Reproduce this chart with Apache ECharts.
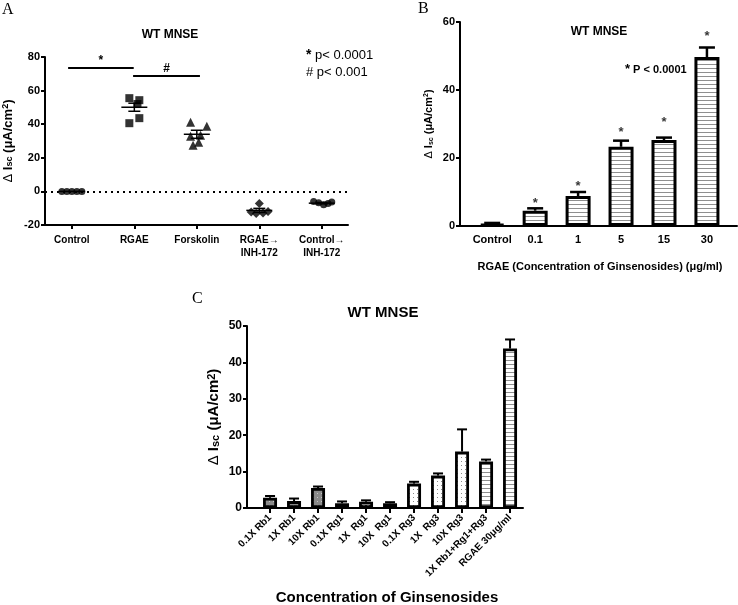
<!DOCTYPE html>
<html>
<head>
<meta charset="utf-8">
<title>WT MNSE</title>
<script src="https://cdn.jsdelivr.net/npm/echarts@6/dist/echarts.min.js"></script>
<style>
  html, body { margin: 0; padding: 0; background: #fff; }
  #chart { width: 738px; height: 605px; }
</style>
</head>
<body>
<div id="chart"></div>
<script>
'use strict';

// ---- panel A: scatter with mean / SEM ----
var catsA = ['Control', 'RGAE', 'Forskolin', 'RGAE\u2192\nINH-172', 'Control\u2192\nINH-172'];
var controlX = [-0.16, -0.08, 0, 0.08, 0.16];
var controlY = [0, 0, 0, 0, 0];
var rgaeX = [0.92, 1.08, 1.05, 0.92, 1.08];
var rgaeY = [55.5, 54.3, 52.0, 40.6, 43.6];
var forskX = [1.9, 2.16, 1.9, 2.06, 1.94, 2.03];
var forskY = [41.2, 38.8, 32.8, 33.4, 27.5, 29.3];
var rgaeInhX = [3, 2.87, 2.95, 3.06, 3.14];
var rgaeInhY = [-7.2, -12.3, -13.2, -12.8, -12.0];
var ctrlInhX = [3.87, 3.95, 4.03, 4.1, 4.16];
var ctrlInhY = [-6.0, -6.8, -8.0, -7.2, -6.3];
var meanA = [0, 50.1, 34.0, -11.3, -7.0];
var semA = [0, 2.4, 2.4, 1.2, 0.4];
var sigFrom = [-0.06, 0.98];
var sigTo = [0.99, 2.05];
var sigY = [73.4, 69];
var sigMark = ['*', '#'];

// ---- panel B: RGAE dose response ----
var catsB = ['Control', '0.1', '1', '5', '15', '30'];
var meanB = [0.6, 4.5, 8.8, 23.3, 25.3, 49.7];
var errB = [0.3, 0.7, 1.2, 1.8, 0.7, 2.8];
var starB = [null, 7.6, 12.5, 28.4, 31.2, 56.7];

// ---- panel C: individual ginsenosides ----
var catsC = ['0.1X Rb1', '1X Rb1', '10X Rb1', '0.1X Rg1', '1X  Rg1', '10X  Rg1',
             '0.1X Rg3', '1X  Rg3', '10X Rg3', '1X Rb1+Rg1+Rg3', 'RGAE 30\u03bcg/ml'];
var meanC = [2.8, 1.9, 5.5, 1.3, 1.7, 1.3, 6.7, 8.9, 15.5, 12.8, 43.8];
var errC = [0.5, 0.7, 0.4, 0.5, 0.4, 0.3, 0.5, 0.6, 6.1, 0.5, 2.5];

var FONT = 'Liberation Sans, Arial, sans-serif';

// small canvas fills
function makePattern(bg, fg, kind, size) {
    var cv = document.createElement('canvas');
    cv.width = size; cv.height = size;
    var g = cv.getContext('2d');
    g.fillStyle = bg;
    g.fillRect(0, 0, size, size);
    g.fillStyle = fg;
    if (kind === 'stripe') {
        g.fillRect(0, 0, size, 1);
    } else if (kind === 'ring') {
        g.fillRect(1, 1, 2, 2);
    } else {
        g.fillRect(1, 1, 1, 1);
    }
    return { image: cv, repeat: 'repeat' };
}
var stripeFill = makePattern('#ffffff', '#8f8f8f', 'stripe', 4);
var rb1Fill = makePattern('#8a8a8a', '#c4c4c4', 'dot', 4);
var rg1Fill = makePattern('#ffffff', '#444444', 'ring', 4);
var rg3Fill = makePattern('#ffffff', '#8a8a8a', 'dot', 4);

function fillForC(name) {
    if (name.indexOf('+') >= 0 || name.indexOf('RGAE') === 0) return stripeFill;
    if (name.indexOf('Rb1') >= 0) return rb1Fill;
    if (name.indexOf('Rg1') >= 0) return rg1Fill;
    return rg3Fill;
}

function zip(xs, ys) {
    return xs.map(function (x, i) { return [x, ys[i]]; });
}
function idx(arr) {
    return arr.map(function (v, i) { return i; });
}

var yName = '{d|\u0394 }{b|I}{s|sc}{b| (\u03bcA/cm}{p|2}{b|)}';
function yNameRich(size) {
    return {
        d: { fontSize: size, fontFamily: FONT, color: '#000', verticalAlign: 'middle' },
        b: { fontSize: size, fontFamily: FONT, fontWeight: 'bold', color: '#000' },
        s: { fontSize: size - 4, fontFamily: FONT, fontWeight: 'bold', color: '#000', padding: [4, 0, 0, 0] },
        p: { fontSize: size - 4, fontFamily: FONT, fontWeight: 'bold', color: '#000', padding: [0, 0, 5, 0] }
    };
}

var axisLineStyle = { show: true, onZero: false, lineStyle: { color: '#000', width: 2 } };

// mean line with SEM whiskers
function renderMeanSem(params, api) {
    var x = api.value(0), m = api.value(1), s = api.value(2);
    var c = api.coord([x, m]);
    var st = { stroke: '#000', lineWidth: 1.5 };
    var kids = [{ type: 'line', shape: { x1: c[0] - 13, y1: c[1], x2: c[0] + 13, y2: c[1] }, style: st }];
    if (s > 0) {
        var t = api.coord([x, m + s]), b = api.coord([x, m - s]);
        kids.push({ type: 'line', shape: { x1: c[0], y1: t[1], x2: c[0], y2: b[1] }, style: st });
        kids.push({ type: 'line', shape: { x1: c[0] - 6, y1: t[1], x2: c[0] + 6, y2: t[1] }, style: st });
        kids.push({ type: 'line', shape: { x1: c[0] - 6, y1: b[1], x2: c[0] + 6, y2: b[1] }, style: st });
    }
    return { type: 'group', children: kids };
}

// upward error bar
function makeErrRender(cap, lw) {
    return function (params, api) {
        var x = api.value(0), m = api.value(1), e = api.value(2);
        var b = api.coord([x, m]), t = api.coord([x, m + e]);
        var st = { stroke: '#000', lineWidth: lw };
        return {
            type: 'group',
            children: [
                { type: 'line', shape: { x1: b[0], y1: b[1], x2: b[0], y2: t[1] }, style: st },
                { type: 'line', shape: { x1: t[0] - cap / 2, y1: t[1], x2: t[0] + cap / 2, y2: t[1] }, style: st }
            ]
        };
    };
}

var chart = echarts.init(document.getElementById('chart'));

var option = {
    backgroundColor: '#fff',
    animation: false,
    textStyle: { fontFamily: FONT },
    title: [
        { text: 'WT MNSE', left: 165, top: 24, textAlign: 'center',
          textStyle: { fontSize: 12, fontWeight: 'bold', color: '#000', fontFamily: FONT } },
        { text: 'WT MNSE', left: 594, top: 21, textAlign: 'center',
          textStyle: { fontSize: 12, fontWeight: 'bold', color: '#000', fontFamily: FONT } },
        { text: 'WT MNSE', left: 378, top: 300, textAlign: 'center',
          textStyle: { fontSize: 15, fontWeight: 'bold', color: '#000', fontFamily: FONT } }
    ],
    grid: [
        { left: 45, top: 57, width: 303, height: 168, outerBoundsMode: 'none' },
        { left: 460, top: 22, width: 277, height: 204, outerBoundsMode: 'none' },
        { left: 247, top: 326, width: 276, height: 182, outerBoundsMode: 'none' }
    ],
    xAxis: [
        {
            gridIndex: 0, type: 'value', min: -0.43, max: 4.42,
            axisLine: axisLineStyle, splitLine: { show: false },
            axisTick: { customValues: idx(catsA), length: 4, lineStyle: { color: '#000', width: 2 } },
            axisLabel: {
                customValues: idx(catsA), formatter: function (v) { return catsA[v]; },
                color: '#000', fontSize: 10, fontWeight: 'bold', margin: 9, lineHeight: 13
            }
        },
        {
            gridIndex: 1, type: 'value', min: -0.75, max: 5.7,
            axisLine: axisLineStyle, splitLine: { show: false },
            axisTick: { show: false },
            axisLabel: {
                customValues: idx(catsB), formatter: function (v) { return catsB[v]; },
                color: '#000', fontSize: 11, fontWeight: 'bold', margin: 8
            },
            name: 'RGAE (Concentration of Ginsenosides) (\u03bcg/ml)',
            nameLocation: 'middle', nameGap: 35,
            nameTextStyle: { color: '#000', fontSize: 11, fontWeight: 'bold', padding: [0, 0, 0, 3] }
        },
        {
            gridIndex: 2, type: 'value', min: -0.96, max: 10.54,
            axisLine: axisLineStyle, splitLine: { show: false },
            axisTick: { customValues: idx(catsC), length: 5, lineStyle: { color: '#000', width: 2 } },
            axisLabel: {
                customValues: idx(catsC), formatter: function (v) { return catsC[v]; },
                rotate: 45, color: '#000', fontSize: 10, fontWeight: 'bold', margin: 8
            },
            name: 'Concentration of Ginsenosides',
            nameLocation: 'middle', nameGap: 82,
            nameTextStyle: { color: '#000', fontSize: 15, fontWeight: 'bold', padding: [0, 0, 0, 4] }
        }
    ],
    yAxis: [
        {
            gridIndex: 0, type: 'value', min: -20, max: 80, interval: 20,
            axisLine: axisLineStyle, splitLine: { show: false },
            axisTick: { show: true, length: 4, lineStyle: { color: '#000', width: 2 } },
            axisLabel: { color: '#000', fontSize: 11, fontWeight: 'bold', margin: 5 },
            name: yName, nameLocation: 'middle', nameGap: 30,
            nameTextStyle: { rich: yNameRich(13) }
        },
        {
            gridIndex: 1, type: 'value', min: 0, max: 60, interval: 20,
            axisLine: axisLineStyle, splitLine: { show: false },
            axisTick: { show: true, length: 4, lineStyle: { color: '#000', width: 2 } },
            axisLabel: { color: '#000', fontSize: 11, fontWeight: 'bold', margin: 5 },
            name: yName, nameLocation: 'middle', nameGap: 25,
            nameTextStyle: { rich: yNameRich(11) }
        },
        {
            gridIndex: 2, type: 'value', min: 0, max: 50, interval: 10,
            axisLine: axisLineStyle, splitLine: { show: false },
            axisTick: { show: true, length: 4, lineStyle: { color: '#000', width: 2 } },
            axisLabel: { color: '#000', fontSize: 12, fontWeight: 'bold', margin: 5 },
            name: yName, nameLocation: 'middle', nameGap: 25,
            nameTextStyle: { rich: yNameRich(15) }
        }
    ],
    graphic: [
        { type: 'text', left: 2, top: 2, style: { text: 'A', font: '16px Liberation Serif, serif', fill: '#000' } },
        { type: 'text', left: 418, top: 1, style: { text: 'B', font: '16px Liberation Serif, serif', fill: '#000' } },
        { type: 'text', left: 192, top: 291, style: { text: 'C', font: '16px Liberation Serif, serif', fill: '#000' } },
        { type: 'text', left: 306, top: 48, style: {
            text: '{s|*} p< 0.0001',
            rich: { s: { fontSize: 14, fontWeight: 'bold', fontFamily: FONT } },
            font: '13px ' + FONT, fill: '#000' } },
        { type: 'text', left: 306, top: 66, style: { text: '# p< 0.001', font: '13px ' + FONT, fill: '#000' } },
        { type: 'text', left: 625, top: 63, style: {
            text: '{s|*} P < 0.0001',
            rich: { s: { fontSize: 13, fontWeight: 'bold', fontFamily: FONT } },
            font: 'bold 11px ' + FONT, fill: '#000' } }
    ],
    series: [
        // panel A
        {
            type: 'scatter', xAxisIndex: 0, yAxisIndex: 0, symbol: 'circle', symbolSize: 7,
            itemStyle: { color: '#000' }, data: zip(controlX, controlY),
            markLine: {
                silent: true, symbol: 'none', animation: false,
                lineStyle: { color: '#000', width: 2, type: [2, 4] },
                label: { show: false },
                data: [{ yAxis: 0 }]
            }
        },
        {
            type: 'scatter', xAxisIndex: 0, yAxisIndex: 0, symbol: 'rect', symbolSize: 8,
            itemStyle: { color: '#000' }, data: zip(rgaeX, rgaeY),
            markLine: {
                silent: true, symbol: 'none', animation: false,
                lineStyle: { color: '#000', width: 2, type: 'solid' },
                label: {
                    show: true, position: 'insideMiddleTop', distance: 1,
                    formatter: function (p) { return p.name; },
                    color: '#000', fontWeight: 'bold', fontSize: 12
                },
                data: sigMark.map(function (m, i) {
                    return [{ name: m, coord: [sigFrom[i], sigY[i]] }, { coord: [sigTo[i], sigY[i]] }];
                })
            }
        },
        {
            type: 'scatter', xAxisIndex: 0, yAxisIndex: 0, symbol: 'triangle', symbolSize: 9,
            itemStyle: { color: '#000' }, data: zip(forskX, forskY)
        },
        {
            type: 'scatter', xAxisIndex: 0, yAxisIndex: 0, symbol: 'diamond', symbolSize: 9,
            itemStyle: { color: '#000' }, data: zip(rgaeInhX, rgaeInhY)
        },
        {
            type: 'scatter', xAxisIndex: 0, yAxisIndex: 0, symbol: 'circle', symbolSize: 7,
            itemStyle: { color: '#000' }, data: zip(ctrlInhX, ctrlInhY)
        },
        {
            type: 'custom', xAxisIndex: 0, yAxisIndex: 0, z: 5,
            renderItem: renderMeanSem,
            data: meanA.map(function (m, i) { return [i, m, semA[i]]; })
        },
        // panel B
        {
            type: 'custom', xAxisIndex: 1, yAxisIndex: 1, z: 1,
            renderItem: makeErrRender(16, 2.5),
            data: meanB.map(function (m, i) { return [i, m, errB[i]]; })
        },
        {
            type: 'bar', xAxisIndex: 1, yAxisIndex: 1, barWidth: 25, z: 2,
            data: meanB.map(function (m, i) {
                return {
                    value: [i, m],
                    itemStyle: { color: i === 0 ? '#000' : stripeFill, borderColor: '#000', borderWidth: 3 }
                };
            })
        },
        {
            type: 'scatter', xAxisIndex: 1, yAxisIndex: 1, symbolSize: 0,
            data: starB.map(function (s, i) { return [i, s]; }).filter(function (d) { return d[1] !== null; }),
            label: {
                show: true, position: 'inside', formatter: '*', offset: [0, 3],
                color: '#000', fontSize: 13, fontWeight: 'bold'
            }
        },
        // panel C
        {
            type: 'custom', xAxisIndex: 2, yAxisIndex: 2, z: 1,
            renderItem: makeErrRender(10, 2),
            data: meanC.map(function (m, i) { return [i, m, errC[i]]; })
        },
        {
            type: 'bar', xAxisIndex: 2, yAxisIndex: 2, barWidth: 14, z: 2,
            data: meanC.map(function (m, i) {
                return {
                    value: [i, m],
                    itemStyle: { color: fillForC(catsC[i]), borderColor: '#000', borderWidth: 2.8 }
                };
            })
        }
    ]
};

chart.setOption(option);
</script>
</body>
</html>
